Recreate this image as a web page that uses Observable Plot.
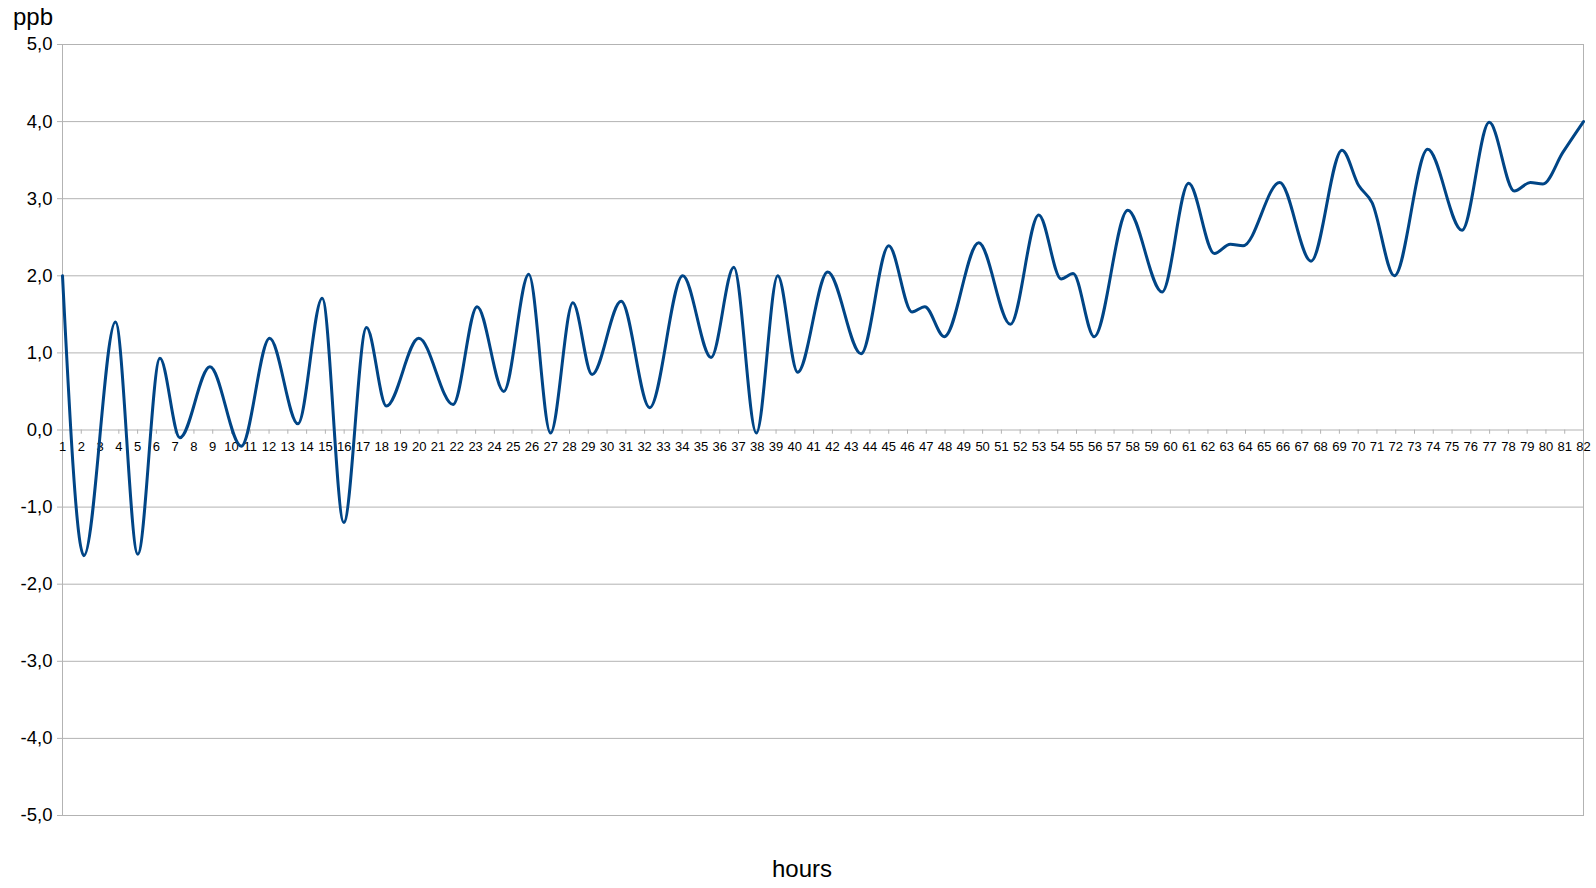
<!DOCTYPE html>
<html>
<head>
<meta charset="utf-8">
<script src="https://cdn.jsdelivr.net/npm/d3@7"></script>
<script src="https://cdn.jsdelivr.net/npm/@observablehq/plot@0.6"></script>
<style>
  html, body { margin: 0; padding: 0; background: #ffffff; }
  #chart { width: 1596px; height: 888px; }
</style>
</head>
<body>
<div id="chart"></div>
<script>
// Hour positions (fractional, read at turning points of the curve)
const hourPoints = [1, 2.14, 3.82, 5.01, 6.19, 7.25, 8.85, 10.52, 12.03, 13.54, 14.83, 15.98, 17.19, 18.25, 19.97, 21.80, 23.08, 24.50, 25.83, 26.99, 28.18, 29.2, 30.75, 32.27, 34.03, 35.54, 36.75, 37.95, 39.09, 40.15, 41.75, 43.53, 45.0, 46.24, 46.92, 47.96, 49.79, 51.48, 52.99, 54.18, 54.82, 55.94, 57.73, 59.56, 60.97, 62.34, 63.19, 63.87, 65.82, 67.49, 69.14, 70.03, 70.74, 71.93, 73.70, 75.53, 76.98, 78.31, 79.17, 79.84, 80.9, 82];
// ppb values at those positions
const ppbValues = [2.0, -1.63, 1.40, -1.61, 0.93, -0.10, 0.82, -0.21, 1.19, 0.08, 1.71, -1.20, 1.33, 0.31, 1.19, 0.33, 1.60, 0.50, 2.02, -0.04, 1.65, 0.72, 1.67, 0.29, 2.00, 0.94, 2.11, -0.04, 2.00, 0.75, 2.05, 0.99, 2.39, 1.53, 1.60, 1.21, 2.43, 1.37, 2.79, 1.96, 2.03, 1.21, 2.85, 1.79, 3.20, 2.29, 2.41, 2.39, 3.21, 2.19, 3.63, 3.17, 2.95, 2.00, 3.64, 2.59, 3.99, 3.10, 3.21, 3.19, 3.60, 4.0];
// Category tick labels on the x axis
const hourTicks = Array.from({length: 82}, (_, i) => i + 1);
// Y axis ticks
const ppbTicks = [-5, -4, -3, -2, -1, 0, 1, 2, 3, 4, 5];
const yLabel = "ppb";
const xLabel = "hours";

const data = hourPoints.map((h, i) => ({hour: h, ppb: ppbValues[i]}));
const gray = "#b3b3b3";
const fmt = d => d.toFixed(1).replace(".", ",");
const font = "'Liberation Sans', Arial, sans-serif";

const chart = Plot.plot({
  width: 1596,
  height: 888,
  marginLeft: 62,
  marginRight: 13,
  marginTop: 44,
  marginBottom: 73,
  style: {fontFamily: font, background: "#ffffff", color: "#000"},
  x: {domain: [1, 82], axis: null},
  y: {domain: [-5, 5]},
  marks: [
    Plot.gridY(ppbTicks, {stroke: gray, strokeOpacity: 1, strokeWidth: 1}),
    Plot.frame({stroke: gray, strokeWidth: 1}),
    Plot.axisY(ppbTicks, {
      tickFormat: fmt, tickSize: 5, tickPadding: 5, fontSize: 18.5,
      stroke: gray, strokeOpacity: 1, fill: "#000", label: null
    }),
    Plot.ruleX(hourTicks, {x: d => d, y1: 0, y2: -0.055, stroke: gray, strokeWidth: 1}),
    Plot.text(hourTicks, {x: d => d, y: 0, text: d => String(d), dy: 16.5, fontSize: 13, fill: "#000"}),
    Plot.line(data, {x: "hour", y: "ppb", curve: "monotone-x", stroke: "#004586", strokeWidth: 3})
  ]
});

const svg = d3.select(chart);
svg.append("text")
  .attr("x", 13).attr("y", 25)
  .attr("text-anchor", "start")
  .attr("font-size", 24).attr("fill", "#000")
  .attr("font-family", font)
  .text(yLabel);
svg.append("text")
  .attr("x", 802).attr("y", 877)
  .attr("text-anchor", "middle")
  .attr("font-size", 24).attr("fill", "#000")
  .attr("font-family", font)
  .text(xLabel);

document.getElementById("chart").appendChild(chart);
</script>
</body>
</html>
